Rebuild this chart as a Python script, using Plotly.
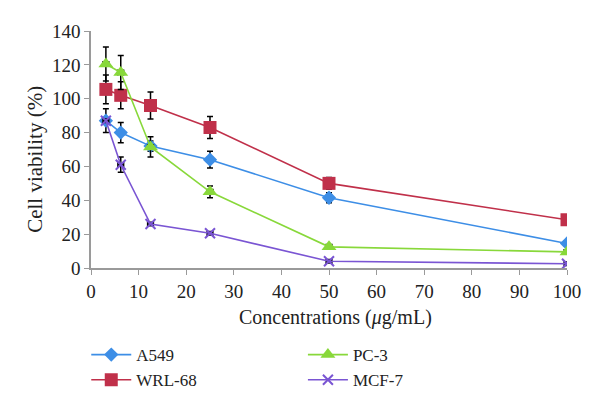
import plotly.graph_objects as go

conc = [3.125, 6.25, 12.5, 25, 50, 100]

a549 = [87, 80, 72, 64, 41.5, 14.5]
a549_err = [7, 6, 3, 5, 3, 1]

wrl68 = [105.5, 102, 96, 83, 50, 28.5]
wrl68_err = [8.5, 8, 8, 6.5, 3.5, 1]

pc3 = [120.5, 115.5, 71.5, 45, 12.5, 9.5]
pc3_err = [10, 10, 6, 3.5, 1, 1]

mcf7 = [87, 61, 26, 20.5, 4, 2.5]
mcf7_err = [1, 4.5, 1, 1, 1, 1]

x_err = [0.6] * 6

x_title = "Concentrations (<i>μ</i>g/mL)"
y_title = "Cell viability (%)"

series = [
    ("A549", a549, a549_err, "#3d8ee6", "diamond", 11, "legend"),
    ("WRL-68", wrl68, wrl68_err, "#c0304a", "square", 13, "legend"),
    ("PC-3", pc3, pc3_err, "#88d83a", "triangle-up", 13, "legend2"),
    ("MCF-7", mcf7, mcf7_err, "#7a55d3", "x-thin-open", 10, "legend2"),
]

fig = go.Figure()
for name, ys, errs, color, sym, size, leg in series:
    marker = dict(symbol=sym, size=size, color=color)
    if sym.endswith("open"):
        marker["line"] = dict(color=color, width=2)
    fig.add_trace(go.Scatter(
        x=conc, y=ys, name=name, mode="lines+markers",
        line=dict(color=color, width=1.6),
        marker=marker,
        legend=leg,
        error_y=dict(type="data", array=errs, visible=True, color="black", thickness=1.5, width=3),
        error_x=dict(type="data", array=x_err, visible=True, color="black", thickness=1.5, width=3),
    ))

legend_common = dict(
    xref="container", yref="container", yanchor="top", xanchor="left",
    y=0.167, font=dict(size=17), itemwidth=40, bgcolor="rgba(0,0,0,0)",
    tracegroupgap=0,
)

fig.update_layout(
    width=584, height=395,
    margin=dict(l=83, r=25, t=23, b=135, autoexpand=False),
    plot_bgcolor="white", paper_bgcolor="white",
    font=dict(family="Liberation Serif", size=19, color="#222"),
    showlegend=True,
    legend=dict(x=0.134, **legend_common),
    legend2=dict(x=0.505, **legend_common),
    xaxis=dict(
        range=[0, 100], dtick=10, showgrid=False, zeroline=False,
        showline=True, linecolor="#9a9a9a", linewidth=1.5,
        ticks="outside", ticklen=5, tickcolor="#9a9a9a",
        automargin=False,
    ),
    yaxis=dict(
        range=[0, 140], dtick=20, showgrid=False, zeroline=False,
        showline=True, linecolor="#9a9a9a", linewidth=1.5,
        ticks="outside", ticklen=5, tickcolor="#9a9a9a",
        automargin=False,
    ),
    annotations=[
        dict(text=x_title, xref="paper", yref="paper", x=0.513, y=-0.207,
             xanchor="center", yanchor="middle", showarrow=False,
             font=dict(size=20)),
        dict(text=y_title, xref="paper", yref="paper", x=-0.118, y=0.46,
             xanchor="center", yanchor="middle", showarrow=False,
             textangle=-90, font=dict(size=21)),
    ],
)

fig.write_html("out.html")
